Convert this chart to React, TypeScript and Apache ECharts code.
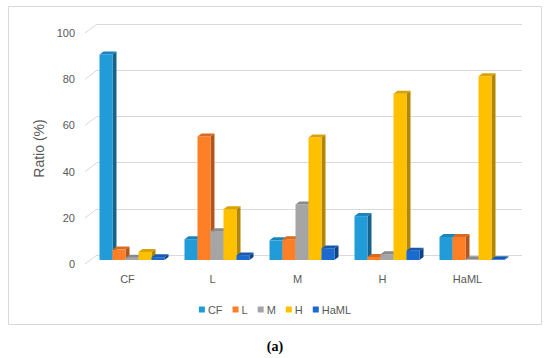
import React, { useEffect, useRef } from "react";
import * as echarts from "echarts";

const categories = ["CF", "L", "M", "H", "HaML"];
const seriesNames = ["CF", "L", "M", "H", "HaML"];
const cfValues = [89, 9, 8.5, 19, 10];
const lValues = [4.5, 53.5, 9, 1.3, 10];
const mValues = [1, 12.5, 24, 2.5, 0.3];
const hValues = [3.5, 22, 53, 72, 79.5];
const hamlValues = [1.2, 2, 5, 4, 0.3];
const yTicks = [0, 20, 40, 60, 80, 100];

const allValues = [cfValues, lValues, mValues, hValues, hamlValues];
const palette = [
  { front: "#229bd9", side: "#15628c", top: "#1b84bd" },
  { front: "#fe7f26", side: "#b3561c", top: "#d96a1f" },
  { front: "#a5a5a5", side: "#737373", top: "#8a8a8a" },
  { front: "#ffc000", side: "#b38600", top: "#d9a300" },
  { front: "#1a6ad0", side: "#0e4385", top: "#165ab0" },
];

const FONT = "Liberation Sans";

export default function App() {
  const ref = useRef<HTMLDivElement>(null);
  useEffect(() => {
    if (!ref.current) return;
    const chart = echarts.init(ref.current, null, { renderer: "svg" });
    const nSeries = allValues.length;

    const barSeries = allValues.map((vals, s) => ({
      type: "custom",
      name: seriesNames[s],
      xAxisIndex: 0,
      yAxisIndex: 0,
      itemStyle: { color: palette[s].front },
      data: vals.map((v, i) => [i, v]),
      renderItem: (params: any, api: any) => {
        const ci = api.value(0);
        const v = api.value(1);
        const base = api.coord([ci, 0]);
        const top = api.coord([ci, v]);
        const band = api.size([1, 0])[0];
        const w = (band * 13) / 85;
        const shiftX = -7.5;
        const shiftY = 5;
        const dx = 4;
        const dy = 3;
        const x0 = base[0] - (nSeries / 2) * w + s * w + shiftX;
        const x1 = x0 + w;
        const yb = base[1] + shiftY;
        const yt = top[1] + shiftY;
        const c = palette[s];
        return {
          type: "group",
          children: [
            {
              type: "polygon",
              shape: { points: [[x1, yt], [x1 + dx, yt - dy], [x1 + dx, yb - dy], [x1, yb]] },
              style: { fill: c.side },
            },
            {
              type: "rect",
              shape: { x: x0, y: yt, width: w, height: Math.max(yb - yt, 0) },
              style: { fill: c.front },
            },
            {
              type: "polygon",
              shape: { points: [[x0, yt], [x0 + dx, yt - dy], [x1 + dx, yt - dy], [x1, yt]] },
              style: { fill: c.top },
            },
          ],
        };
      },
    }));

    const wallSeries = {
      type: "custom",
      name: "wall",
      silent: true,
      xAxisIndex: 0,
      yAxisIndex: 0,
      data: yTicks.map((t) => [0, t]),
      renderItem: (params: any, api: any) => {
        const p = api.coord([0, api.value(1)]);
        const band = api.size([1, 0])[0];
        const left = p[0] - band / 2;
        return {
          type: "line",
          shape: { x1: left, y1: p[1], x2: left - 12, y2: p[1] + 9 },
          style: { stroke: "#d9d9d9", lineWidth: 1 },
        };
      },
      z: 1,
    };

    chart.setOption({
      animation: false,
      backgroundColor: "#ffffff",
      textStyle: { fontFamily: FONT },
      graphic: [
        {
          type: "rect",
          shape: { x: 8.5, y: 6.5, width: 533, height: 318 },
          style: { fill: "none", stroke: "#d9d9d9", lineWidth: 1 },
          silent: true,
        },
        {
          type: "text",
          x: 275,
          y: 346,
          silent: true,
          style: {
            text: "(a)",
            fontFamily: "Liberation Serif",
            fontWeight: "bold",
            fontSize: 14,
            fill: "#000",
            align: "center",
            verticalAlign: "middle",
          },
        },
      ],
      legend: {
        data: seriesNames,
        top: 299,
        left: "center",
        icon: "rect",
        itemWidth: 6,
        itemHeight: 6,
        itemGap: 10,
        textStyle: { fontSize: 11, color: "#595959", fontFamily: FONT, padding: [0, 0, 0, -2] },
      },
      grid: [
        { left: 97, right: 28, top: 24, bottom: 103 },
        { left: 85, right: 40, top: 33, bottom: 94 },
      ],
      xAxis: [
        {
          type: "category",
          gridIndex: 0,
          data: categories,
          axisLine: { show: false },
          axisTick: { show: false },
          axisLabel: { show: false },
        },
        {
          type: "category",
          gridIndex: 1,
          data: categories,
          axisLine: { show: false },
          axisTick: { show: false },
          axisLabel: { color: "#595959", fontSize: 11, margin: 9, fontFamily: FONT },
        },
      ],
      yAxis: [
        {
          type: "value",
          gridIndex: 0,
          min: 0,
          max: 100,
          interval: 20,
          axisLine: { show: false },
          axisTick: { show: false },
          axisLabel: { show: false },
          splitLine: { lineStyle: { color: "#d9d9d9", width: 1 } },
        },
        {
          type: "value",
          gridIndex: 1,
          min: 0,
          max: 100,
          interval: 20,
          axisLine: { show: false },
          axisTick: { show: false },
          splitLine: { show: false },
          axisLabel: { color: "#595959", fontSize: 11, margin: 10, fontFamily: FONT },
          name: "Ratio (%)",
          nameLocation: "middle",
          nameGap: 33,
          nameTextStyle: { color: "#595959", fontSize: 14, fontFamily: FONT },
        },
      ],
      series: [wallSeries, ...barSeries],
    });
    return () => chart.dispose();
  }, []);
  return (
    <div
      ref={ref}
      style={{ position: "fixed", left: 0, top: 0, width: 550, height: 358, background: "#fff" }}
    />
  );
}
